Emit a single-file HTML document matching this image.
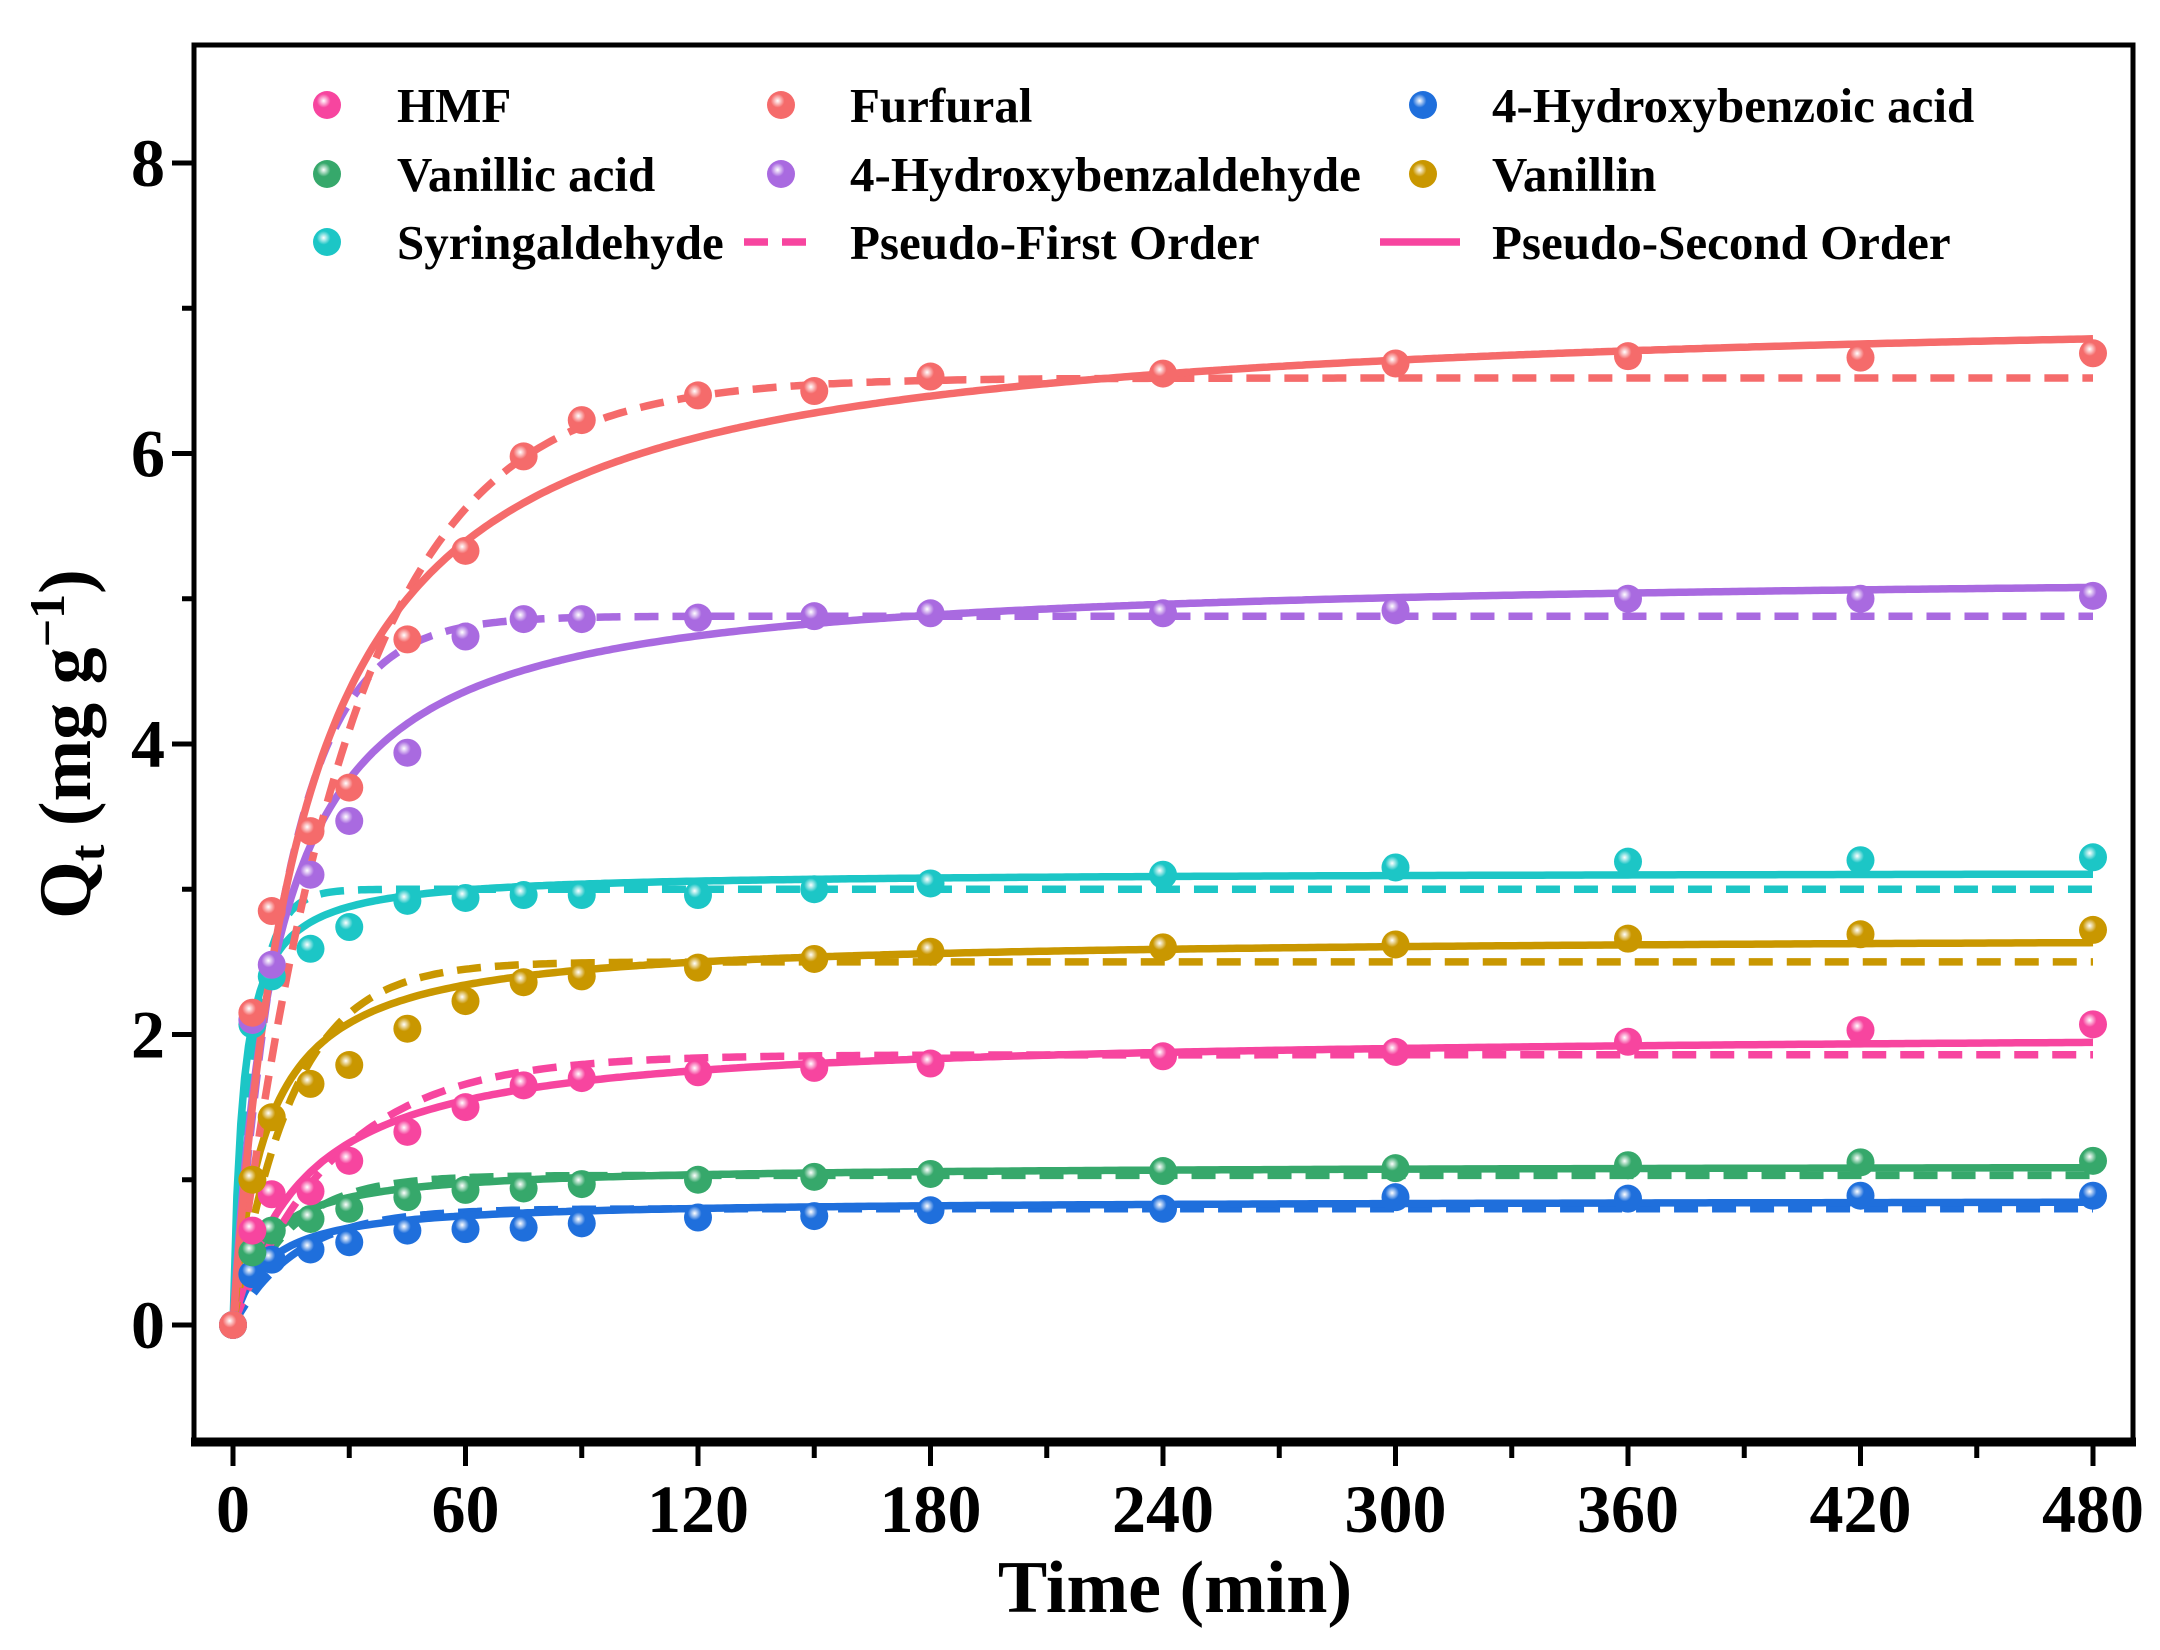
<!DOCTYPE html>
<html><head><meta charset="utf-8"><style>
html,body{margin:0;padding:0;background:#fff}
svg{display:block}
text{font-family:"Liberation Serif",serif;font-weight:bold;fill:#000}
</style></head><body>
<svg id="chart" width="2160" height="1650" viewBox="0 0 2160 1650" xmlns="http://www.w3.org/2000/svg">
<defs id="defs"></defs>
<g id="plot"></g>
<g id="axes"></g>
<g id="legend"></g>
</svg>
<script>
const times = [0,5,10,20,30,45,60,75,90,120,150,180,240,300,360,420,480];
const seriesNames = ["HMF","Furfural","4-Hydroxybenzoic acid","Vanillic acid","4-Hydroxybenzaldehyde","Vanillin","Syringaldehyde"];
const seriesColors = ["#f7459f","#f56b6b","#1f6fdc","#36a86b","#a96ae0","#c99700","#1cc6c6"];
const hmf = [0,0.65,0.9,0.92,1.13,1.33,1.5,1.65,1.7,1.74,1.77,1.8,1.85,1.88,1.95,2.03,2.07];
const furfural = [0,2.15,2.85,3.4,3.7,4.72,5.33,5.98,6.23,6.4,6.43,6.53,6.55,6.62,6.67,6.66,6.69];
const hbAcid = [0,0.35,0.45,0.52,0.57,0.65,0.66,0.67,0.7,0.74,0.75,0.79,0.8,0.88,0.87,0.89,0.89];
const vanillicAcid = [0,0.5,0.65,0.73,0.8,0.88,0.93,0.94,0.97,1.0,1.02,1.04,1.06,1.08,1.1,1.12,1.13];
const hbAldehyde = [0,2.1,2.48,3.1,3.47,3.94,4.74,4.86,4.86,4.87,4.88,4.9,4.9,4.92,5.0,5.0,5.02];
const vanillin = [0,1.0,1.43,1.66,1.79,2.04,2.23,2.36,2.4,2.46,2.52,2.57,2.6,2.62,2.66,2.69,2.72];
const syringaldehyde = [0,2.07,2.4,2.59,2.74,2.92,2.94,2.96,2.96,2.96,3.0,3.04,3.1,3.15,3.19,3.2,3.22];
const pfoQe = [1.86,6.52,0.8,1.03,4.88,2.5,3.0];
const pfoK = [0.037,0.033,0.06,0.07,0.07,0.065,0.2];
const psoQe = [2.02,7.05,0.86,1.1,5.2,2.68,3.12];
const psoK = [0.027,0.0077,0.135,0.12,0.0167,0.043,0.128];
const xTicks = [0,60,120,180,240,300,360,420,480];
const yTicks = [0,2,4,6,8];

const allData = [hmf,furfural,hbAcid,vanillicAcid,hbAldehyde,vanillin,syringaldehyde];
const drawOrder = [2,3,0,5,6,4,1];
const NS = "http://www.w3.org/2000/svg";
const L=194,R=2133,T=45,B=1442;
const xScale = v => 233 + (v-0)*(2093-233)/480;
const yScale = v => 1325 - v*145.25;
function mk(tag, attrs, parent){const e=document.createElementNS(NS,tag);for(const k in attrs)e.setAttribute(k,attrs[k]);parent.appendChild(e);return e;}
const defs=document.getElementById('defs'),plot=document.getElementById('plot'),axes=document.getElementById('axes'),legend=document.getElementById('legend');
seriesColors.forEach((c,i)=>{const g=mk('radialGradient',{id:'g'+i,cx:'0.38',cy:'0.35',r:'0.7'},defs);
 mk('stop',{offset:'0','stop-color':'#fff'},g);mk('stop',{offset:'0.35','stop-color':c},g);mk('stop',{offset:'1','stop-color':c},g);});
const clip=mk('clipPath',{id:'clip'},defs);mk('rect',{x:L,y:T,width:R-L,height:B-T},clip);
plot.setAttribute('clip-path','url(#clip)');
function curvePath(f){let d='';for(let t=0;t<=480;t+=1){d+=(t?'L':'M')+xScale(t).toFixed(1)+','+yScale(f(t)).toFixed(1);}return d;}
drawOrder.forEach(i=>{
 const c=seriesColors[i];
 const pf=mk('path',{d:curvePath(t=>pfoQe[i]*(1-Math.exp(-pfoK[i]*t))),fill:'none',stroke:c,'stroke-width':7.5,'stroke-dasharray':'24 14'},plot);
 
 
 const ps=mk('path',{d:curvePath(t=>psoQe[i]*psoQe[i]*psoK[i]*t/(1+psoQe[i]*psoK[i]*t)),fill:'none',stroke:c,'stroke-width':7.5},plot);
 
 
});
drawOrder.forEach(i=>{
 allData[i].forEach((v,j)=>{
  const p=mk('circle',{cx:xScale(times[j]),cy:yScale(v),r:14,fill:'url(#g'+i+')'},plot);
  
  
 });
});
const fr=mk('rect',{x:L,y:T,width:R-L,height:B-T,fill:'none',stroke:'#000','stroke-width':5},axes);


const xa=mk('line',{x1:L-3,x2:R+3,y1:B,y2:B,stroke:'#000','stroke-width':9},axes);


for(let v=0;v<=480;v+=30){const big=v%60===0;const tk=mk('line',{x1:xScale(v),x2:xScale(v),y1:B+4,y2:B+(big?24:16),stroke:'#000','stroke-width':5},axes);
 
 }
xTicks.forEach(v=>{const t=mk('text',{x:xScale(v),y:1532,'text-anchor':'middle','font-size':68},axes);t.textContent=v;
 
 });
for(let v=-0;v<=8;v+=1){const big=v%2===0;const tk=mk('line',{x1:L-(big?22:12),x2:L,y1:yScale(v),y2:yScale(v),stroke:'#000','stroke-width':5},axes);
 
 }
yTicks.forEach(v=>{const t=mk('text',{x:165,y:yScale(v)+23,'text-anchor':'end','font-size':68},axes);t.textContent=v;
 
 });
const xt=mk('text',{x:1175,y:1612,'text-anchor':'middle','font-size':74},axes);xt.textContent='Time (min)';


const yt=mk('text',{x:0,y:0,'text-anchor':'middle','font-size':74,transform:'translate(90,744) rotate(-90)'},axes);
yt.innerHTML='Q<tspan font-size="50" dy="14">t</tspan><tspan dy="-14"> (mg g</tspan><tspan font-size="50" dy="-26">−1</tspan><tspan dy="26">)</tspan>';


const legItems=[[0,0,0],[1,1,0],[2,2,0],[3,0,1],[4,1,1],[5,2,1],[6,0,2]];
const colX=[327,781,1423],txtX=[397,850,1492],rowY=[105,174,242];
legItems.forEach(([i,c,r])=>{
 const m=mk('circle',{cx:colX[c],cy:rowY[r],r:14,fill:'url(#g'+i+')'},legend);
 
 
 const t=mk('text',{x:txtX[c],y:rowY[r]+17,'font-size':49},legend);t.textContent=seriesNames[i];
 
 
});
const dl=mk('line',{x1:744,x2:808,y1:242,y2:242,stroke:'#f7459f','stroke-width':7.5,'stroke-dasharray':'24 14'},legend);


const dt=mk('text',{x:850,y:259,'font-size':49},legend);dt.textContent='Pseudo-First Order';


const sl=mk('line',{x1:1380,x2:1460,y1:242,y2:242,stroke:'#f7459f','stroke-width':7.5},legend);


const st=mk('text',{x:1492,y:259,'font-size':49},legend);st.textContent='Pseudo-Second Order';


</script>
</body></html>
